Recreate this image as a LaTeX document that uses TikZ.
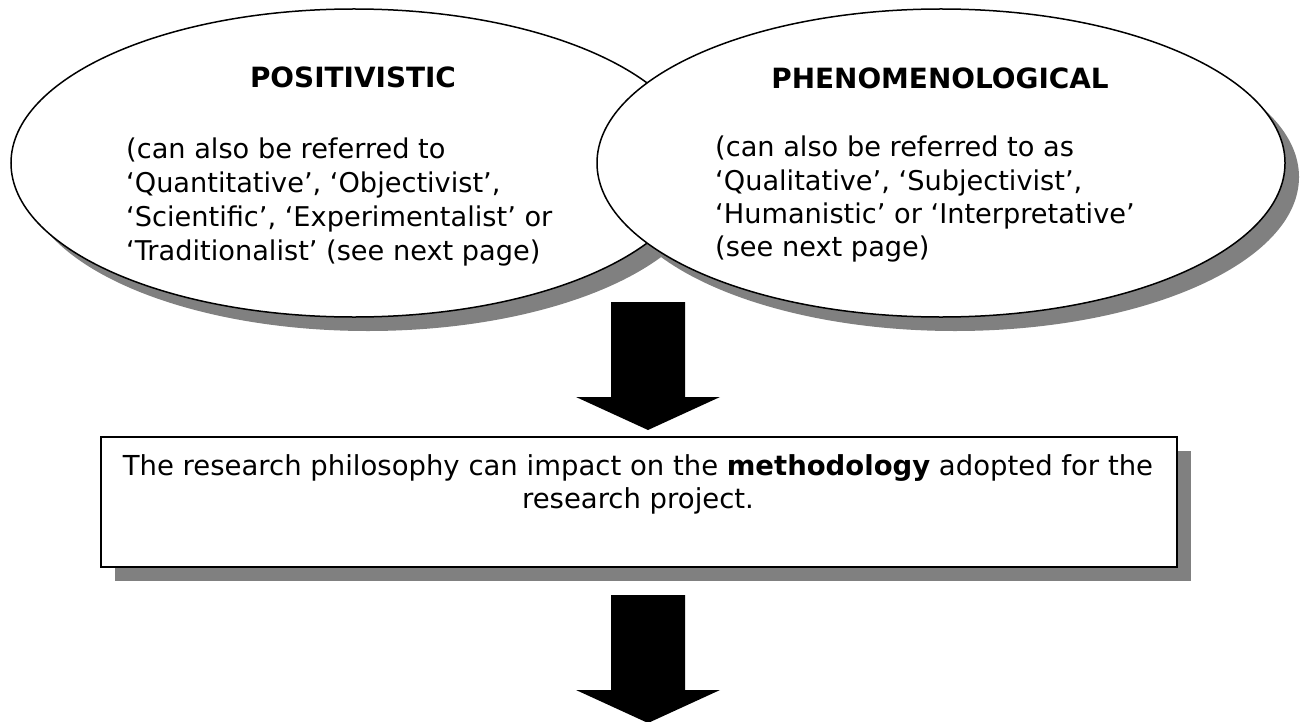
\documentclass[tikz,border=0pt]{standalone}
\usepackage{fontspec}
\setmainfont{DejaVu Sans}
\usetikzlibrary{shapes.geometric}
\definecolor{shadowgray}{HTML}{808080}
\begin{document}
\begin{tikzpicture}[x=1bp,y=-1bp,
  ellbox/.style={ellipse,draw=black,line width=1.5bp,fill=white,inner sep=0pt,
     minimum width=686bp,minimum height=308bp},
  rectbox/.style={rectangle,draw=black,line width=1.5bp,fill=white,inner sep=0pt,
     minimum width=1076bp,minimum height=130bp},
  bodytxt/.style={font=\fontsize{27.3}{33}\selectfont,inner sep=0pt,anchor=base west},
  titletxt/.style={font=\fontsize{28}{33}\selectfont\bfseries,inner sep=0pt,anchor=base},
  boxtxt/.style={font=\fontsize{27.6}{33}\selectfont,inner sep=0pt,anchor=base},
  bigarrow/.pic={\fill[black] (-37,0) -- (37,0) -- (37,95) -- (72,95) -- (0,128) -- (-72,95) -- (-37,95) -- cycle;}
]
\useasboundingbox (0,0) rectangle (1300,721);

% shadows
\fill[shadowgray] (368,177) ellipse [x radius=343bp, y radius=154bp];
\fill[shadowgray] (955,177) ellipse [x radius=344bp, y radius=154bp];

% ellipses
\node[ellbox] (pos) at (354,163) {};
\node[ellbox,minimum width=688bp] (phe) at (941,163) {};

% left ellipse text
\node[titletxt] (posT) at (353,88) {POSITIVISTIC};
\node[bodytxt] (posL1) at (126,158) {(can also be referred to};
\node[bodytxt] (posL2) at (126,192) {‘Quantitative’, ‘Objectivist’,};
\node[bodytxt] (posL3) at (126,226) {‘Scientific’, ‘Experimentalist’ or};
\node[bodytxt] (posL4) at (126,260) {‘Traditionalist’ (see next page)};

% right ellipse text
\node[titletxt] (pheT) at (940,89) {PHENOMENOLOGICAL};
\node[bodytxt] (pheL1) at (715,156) {(can also be referred to as};
\node[bodytxt] (pheL2) at (715,190) {‘Qualitative’, ‘Subjectivist’,};
\node[bodytxt] (pheL3) at (715,223) {‘Humanistic’ or ‘Interpretative’};
\node[bodytxt] (pheL4) at (715,256) {(see next page)};

% first arrow
\pic at (648,302) {bigarrow};

% box
\fill[shadowgray] (115,451) rectangle (1191,581);
\node[rectbox] (meth) at (639,502) {};
\node[boxtxt] (methL1) at (638,475) {The research philosophy can impact on the \textbf{methodology} adopted for the};
\node[boxtxt] (methL2) at (638,508) {research project.};

% second arrow
\pic at (648,595) {bigarrow};
\end{tikzpicture}
\end{document}
